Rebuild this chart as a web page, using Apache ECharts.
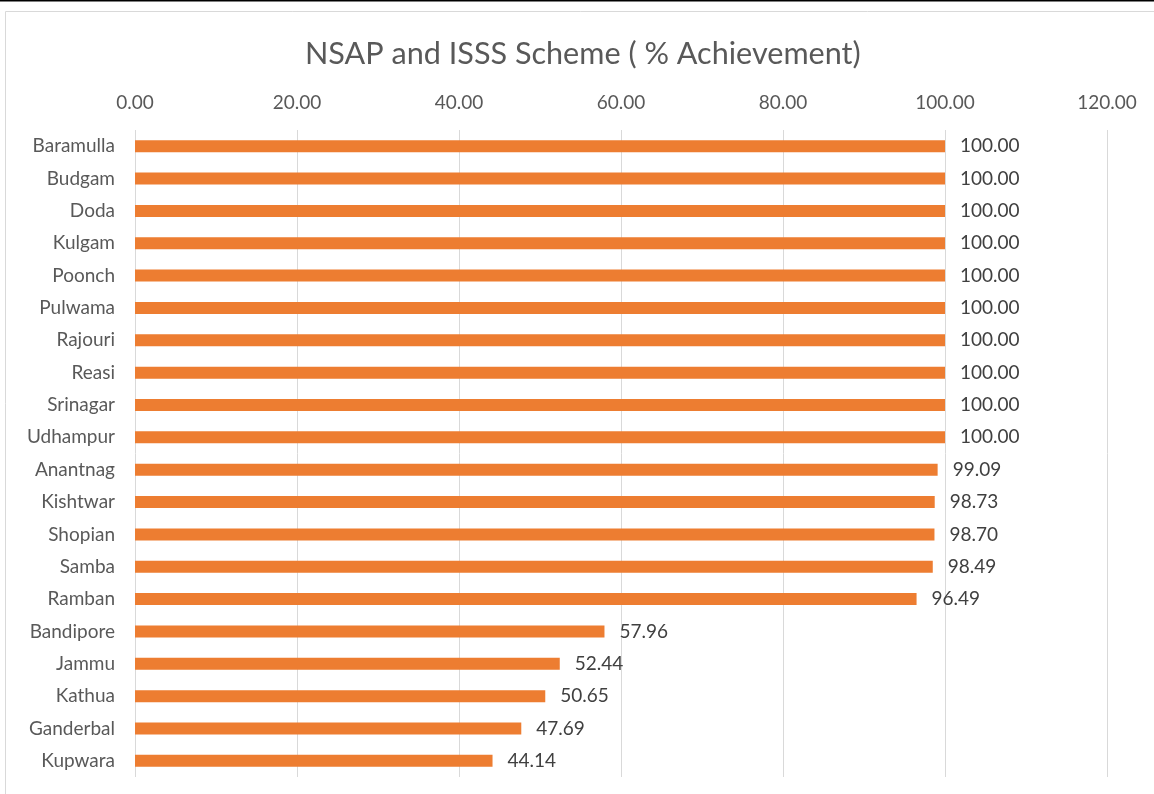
<!DOCTYPE html>
<html><head><meta charset="utf-8">
<script src="https://cdn.jsdelivr.net/npm/echarts@6/dist/echarts.min.js"></script>
<style>html,body{margin:0;padding:0;background:#fff}#c{width:1154px;height:794px}</style>
</head><body><div id="c"></div>
<script>
const categories = ["Baramulla","Budgam","Doda","Kulgam","Poonch","Pulwama","Rajouri","Reasi","Srinagar","Udhampur","Anantnag","Kishtwar","Shopian","Samba","Ramban","Bandipore","Jammu","Kathua","Ganderbal","Kupwara"];
const achievement = [100,100,100,100,100,100,100,100,100,100,99.09,98.73,98.70,98.49,96.49,57.96,52.44,50.65,47.69,44.14];
const titleText = "NSAP and ISSS Scheme ( % Achievement)";
const FONT = "Lato, 'Open Sans', sans-serif";
const chart = echarts.init(document.getElementById('c'));
chart.setOption({
  animation:false,
  textStyle:{fontFamily:FONT},
  title:{text:titleText,left:300,top:34,textStyle:{fontFamily:FONT,fontSize:30.6,fontWeight:'normal',color:'#595959'}},
  graphic:[
    {type:'rect',shape:{x:0,y:0,width:1154,height:1.5},style:{fill:'#000'},silent:true},
    {type:'rect',shape:{x:5.5,y:11.5,width:1160,height:800},style:{fill:'none',stroke:'#d9d9d9',lineWidth:1},silent:true}
  ],
  grid:{left:135,right:47,top:130,bottom:17,containLabel:false},
  xAxis:{type:'value',position:'top',min:0,max:120,interval:20,
    axisLine:{show:false},axisTick:{show:false},
    axisLabel:{formatter:v=>v.toFixed(2),fontSize:19,color:'#595959',margin:18,fontFamily:FONT},
    splitLine:{lineStyle:{color:'#d9d9d9',width:1}}},
  yAxis:{type:'category',data:categories,inverse:true,
    axisLine:{show:false},axisTick:{show:false},
    axisLabel:{fontSize:19,color:'#595959',margin:20,fontFamily:FONT}},
  series:[{type:'bar',data:achievement,barWidth:12,itemStyle:{color:'#ED7D31'},
    label:{show:true,position:'right',distance:15,formatter:p=>p.value.toFixed(2),fontSize:19,color:'#404040',fontFamily:FONT}}]
});
</script></body></html>
